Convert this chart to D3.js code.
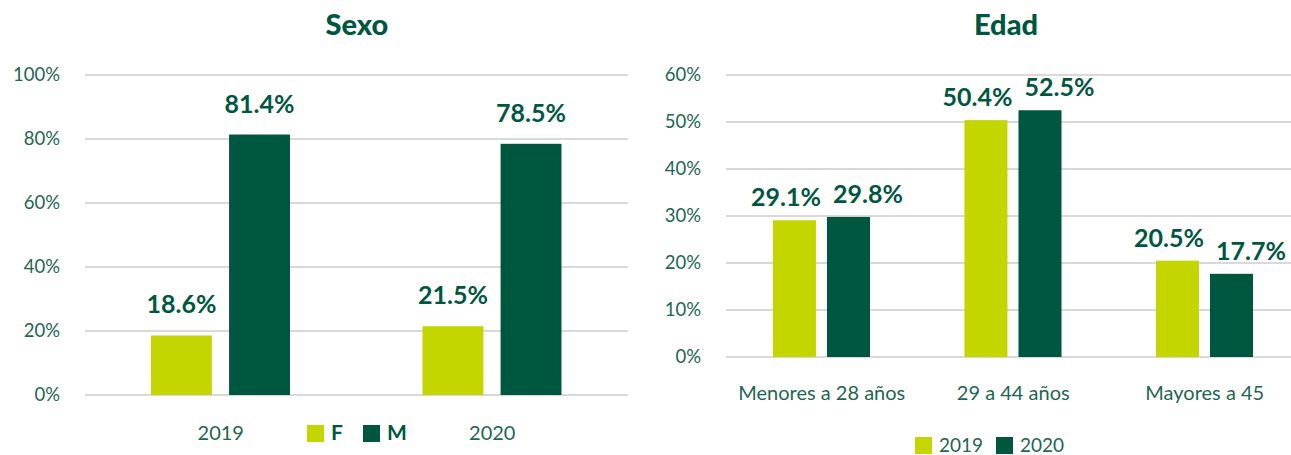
<!DOCTYPE html>
<html>
<head>
    <title>Sexo y Edad</title>
    <meta charset="UTF-8">
    <script src="https://d3js.org/d3.v7.min.js"></script>
    <style>
        body { margin: 0; background: #fff; }
        svg text { font-family: Lato, "Open Sans", sans-serif; }
    </style>
</head>
<body>
<svg width="1291" height="455"></svg>
<script>
    // data
    var sexoYears = ["2019", "2020"];
    var sexoSeries = ["F", "M"];
    var sexoF = [0.186, 0.215];
    var sexoM = [0.814, 0.785];
    var sexoTicks = [0, 0.2, 0.4, 0.6, 0.8, 1.0];

    var edadCats = ["Menores a 28 años", "29 a 44 años", "Mayores a 45"];
    var edadSeries = ["2019", "2020"];
    var edad2019 = [0.291, 0.504, 0.205];
    var edad2020 = [0.298, 0.525, 0.177];
    var edadTicks = [0, 0.1, 0.2, 0.3, 0.4, 0.5, 0.6];

    var light = "#c4d600", dark = "#00573f", txt = "#1d6650", grid = "#d9d9d9";
    var colors = [light, dark];
    var pct = d3.format(".1%");

    var svg = d3.select("svg");

    function drawChart(opt) {
        var g = svg.append("g");

        var x = d3.scaleBand().domain(opt.cats).range(opt.xr);
        var bw = x.bandwidth();
        var xi = d3.scaleBand().domain(opt.series)
            .range([opt.inner[0] * bw, opt.inner[1] * bw]).paddingInner(opt.gap);
        var y = d3.scaleLinear().domain([0, opt.max]).range(opt.yr);

        // gridlines
        g.selectAll("line.grid").data(opt.ticks).enter().append("line")
            .attr("x1", opt.xr[0]).attr("x2", opt.gridEnd)
            .attr("y1", d => y(d)).attr("y2", d => y(d))
            .attr("stroke", grid).attr("stroke-width", 2);

        // y labels
        g.selectAll("text.ytick").data(opt.ticks).enter().append("text")
            .attr("x", opt.xr[0] - 25).attr("y", d => y(d) + 6)
            .attr("text-anchor", "end").attr("fill", txt)
            .attr("font-size", 18.5)
            .text(d => d3.format(".0%")(d));

        // bars
        var rows = [];
        opt.cats.forEach(function(c, i) {
            opt.series.forEach(function(s, j) {
                rows.push({cat: c, s: s, j: j, v: opt.values[j][i]});
            });
        });

        g.selectAll("rect.bar").data(rows).enter().append("rect")
            .attr("x", d => x(d.cat) + xi(d.s))
            .attr("width", xi.bandwidth())
            .attr("y", d => y(d.v))
            .attr("height", d => y(0) - y(d.v))
            .attr("fill", d => colors[d.j]);

        // value labels; in the tight chart they are pushed outwards so they do not collide
        g.selectAll("text.val").data(rows).enter().append("text")
            .attr("x", function(d) {
                var x0 = x(d.cat) + xi(d.s);
                if (!opt.spread) return x0 + xi.bandwidth() / 2;
                return d.j === 0 ? x0 + xi.bandwidth() + 5 : x0 + 6;
            })
            .attr("y", d => y(d.v) - opt.labelOff)
            .attr("text-anchor", d => !opt.spread ? "middle" : (d.j === 0 ? "end" : "start"))
            .attr("fill", dark)
            .attr("font-size", opt.valSize).attr("font-weight", 700)
            .text(d => pct(d.v));

        // category labels
        g.selectAll("text.cat").data(opt.cats).enter().append("text")
            .attr("x", d => x(d) + bw / 2)
            .attr("y", opt.catY)
            .attr("text-anchor", "middle").attr("fill", txt)
            .attr("font-size", 20)
            .text(d => d);

        // title
        g.append("text")
            .attr("x", opt.titleX).attr("y", 35)
            .attr("text-anchor", "middle").attr("fill", dark)
            .attr("font-size", 29).attr("font-weight", 900)
            .text(opt.title);

        return g;
    }

    drawChart({
        title: "Sexo", titleX: 357,
        cats: sexoYears, series: sexoSeries, values: [sexoF, sexoM],
        ticks: sexoTicks, max: 1,
        xr: [85, 628], gridEnd: 628, yr: [395, 75],
        inner: [0.243, 0.755], gap: 0.22,
        labelOff: 22, catY: 440, valSize: 25, spread: false
    });

    drawChart({
        title: "Edad", titleX: 1006,
        cats: edadCats, series: edadSeries, values: [edad2019, edad2020],
        ticks: edadTicks, max: 0.6,
        xr: [726, 1300.5], gridEnd: 1291, yr: [357, 75],
        inner: [0.245, 0.752], gap: 0.2037,
        labelOff: 14, catY: 400, valSize: 25, spread: true
    });

    // legends
    function legend(items, xs, yTop, bold) {
        var lg = svg.append("g");
        items.forEach(function(t, i) {
            lg.append("rect").attr("x", xs[i]).attr("y", yTop)
                .attr("width", 17).attr("height", 17).attr("fill", colors[i]);
            lg.append("text").attr("x", xs[i] + 24).attr("y", yTop + 15)
                .attr("fill", bold ? dark : txt)
                .attr("font-size", bold ? 21 : 19)
                .attr("font-weight", bold ? 700 : 400)
                .text(t);
        });
    }
    legend(sexoSeries, [307, 363], 425, true);
    legend(edadSeries, [915, 996], 437, false);
</script>
</body>
</html>
